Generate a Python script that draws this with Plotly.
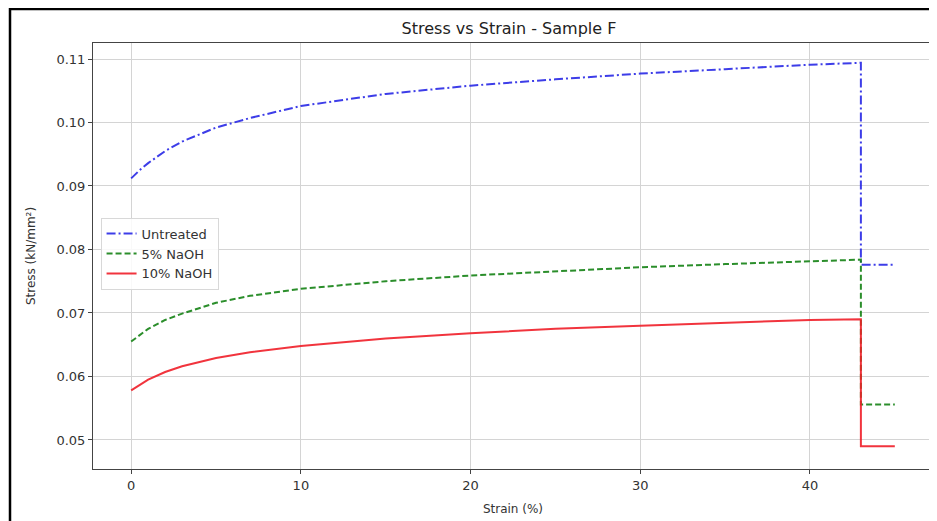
import plotly.graph_objects as go

# Strain (%) sample points
strain = [0, 0.5, 1, 2, 3, 5, 7, 10, 15, 20, 25, 30, 35, 40, 43, 43, 45]

untreated = [0.0912, 0.0925, 0.0936, 0.0955, 0.0970, 0.0992, 0.1007, 0.1026, 0.1045, 0.1058,
             0.1068, 0.1077, 0.1084, 0.1091, 0.1094, 0.0776, 0.0776]
naoh5 = [0.0655, 0.0665, 0.0675, 0.0689, 0.0699, 0.0716, 0.0727, 0.0738, 0.0750, 0.0759,
         0.0766, 0.0772, 0.0777, 0.0782, 0.0784, 0.0556, 0.0556]
naoh10 = [0.0578, 0.0587, 0.0595, 0.0607, 0.0616, 0.0629, 0.0638, 0.0648, 0.0660, 0.0668,
          0.0675, 0.0680, 0.0685, 0.0689, 0.0690, 0.0490, 0.0490]

series_names = ["Untreated", "5% NaOH", "10% NaOH"]
x_ticks = [0, 10, 20, 30, 40]
y_ticks = [0.05, 0.06, 0.07, 0.08, 0.09, 0.10, 0.11]

font = "DejaVu Sans"

fig = go.Figure()
fig.add_trace(go.Scatter(x=strain, y=untreated, mode="lines", name=series_names[0],
                         line=dict(color="rgba(40,40,230,0.9)", width=2, dash="9px,3px,2px,3px")))
fig.add_trace(go.Scatter(x=strain, y=naoh5, mode="lines", name=series_names[1],
                         line=dict(color="rgba(20,130,20,0.9)", width=2, dash="6px,3px")))
fig.add_trace(go.Scatter(x=strain, y=naoh10, mode="lines", name=series_names[2],
                         line=dict(color="rgba(240,30,40,0.9)", width=2)))

axis_common = dict(
    showgrid=True, gridcolor="#d4d4d4", gridwidth=1,
    showline=True, linecolor="#444", linewidth=1, mirror=True,
    ticks="outside", ticklen=4, tickcolor="#444",
    zeroline=False, automargin=False,
    tickfont=dict(family=font, size=13, color="#333"),
)

# page body adds an 8px offset, so the figure is sized/placed to compensate
W, H = 929, 513
fig.update_layout(
    width=W, height=H,
    margin=dict(l=85, r=4, t=35, b=52, autoexpand=False),
    paper_bgcolor="white", plot_bgcolor="white",
    title=dict(text="Stress vs Strain - Sample F", x=(509 - 8) / W, xanchor="center",
               y=1 - 20 / H, yanchor="middle", automargin=False,
               font=dict(family=font, size=16, color="#222")),
    xaxis=dict(range=[-2.25, 47.25], tickvals=x_ticks,
               title=dict(text="Strain (%)", font=dict(family=font, size=12, color="#333"), standoff=13),
               **axis_common),
    yaxis=dict(range=[0.04543, 0.11252], tickvals=y_ticks, tickformat=".2f",
               title=dict(text="Stress (kN/mm²)", font=dict(family=font, size=12, color="#333"), standoff=18),
               **axis_common),
    legend=dict(x=0.009, y=0.59, xanchor="left", yanchor="top",
                bgcolor="rgba(255,255,255,0.85)", bordercolor="#d8d8d8", borderwidth=1,
                font=dict(family=font, size=13, color="#333"), tracegroupgap=2),
    showlegend=True,
)

# outer frame of the picture
fig.add_shape(type="rect", xref="paper", yref="paper",
              x0=(2 - 85) / 840, x1=(927 - 85) / 840,
              y0=(461 - 530) / 426, y1=(461 - 1) / 426,
              line=dict(color="black", width=2.5), layer="above")

fig.write_html("out.html")
